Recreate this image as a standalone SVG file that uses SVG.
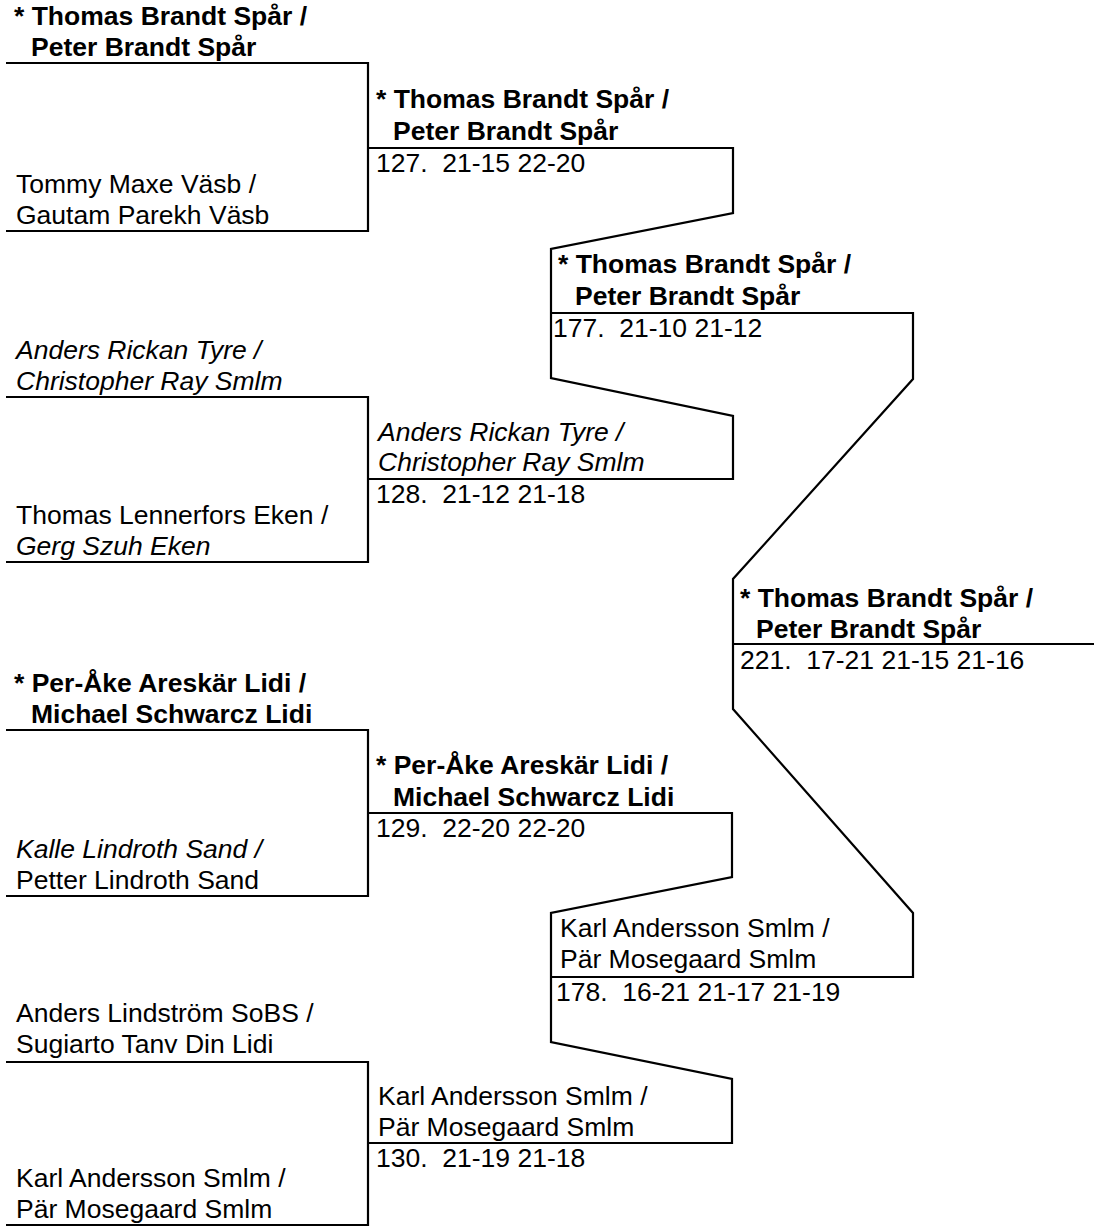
<svg xmlns="http://www.w3.org/2000/svg" width="1104" height="1227" viewBox="0 0 1104 1227">
<style>
text{font-family:"Liberation Sans",Arial,sans-serif;font-size:26.5px;fill:#000;white-space:pre}
.b{font-weight:bold}
.i{font-style:italic}
.ln{fill:none;stroke:#000;stroke-width:2.2;stroke-linejoin:miter}
</style>
<rect width="1104" height="1227" fill="#fff"/>
<g id="connectors">
<path class="ln" d="M6,63 H368 V231 H6"/>
<path class="ln" d="M6,397 H368 V562 H6"/>
<path class="ln" d="M6,730 H368 V896 H6"/>
<path class="ln" d="M6,1062 H368 V1225 H6"/>
<path class="ln" d="M368,148 H733 V213 L551,249 V378 L733,416 V479 H368"/>
<path class="ln" d="M368,813 H732 V877 L551,913 V1042 L732,1079 V1143 H368"/>
<path class="ln" d="M551,313 H913 V379 L733,579 V709 L913,913 V977 H551"/>
<path class="ln" d="M733,644 H1094"/>
</g>
<g id="r1-p1"><text class="b" x="14" y="25">* Thomas Brandt Spår /</text><text class="b" x="31" y="56">Peter Brandt Spår</text></g>
<g id="r1-p2"><text x="16" y="193">Tommy Maxe Väsb /</text><text x="16" y="224">Gautam Parekh Väsb</text></g>
<g id="r1-p3"><text class="i" x="16" y="359">Anders Rickan Tyre /</text><text class="i" x="16" y="390">Christopher Ray Smlm</text></g>
<g id="r1-p4"><text x="16" y="524">Thomas Lennerfors Eken /</text><text class="i" x="16" y="555">Gerg Szuh Eken</text></g>
<g id="r1-p5"><text class="b" x="14" y="692">* Per-Åke Areskär Lidi /</text><text class="b" x="31" y="723">Michael Schwarcz Lidi</text></g>
<g id="r1-p6"><text class="i" x="16" y="858">Kalle Lindroth Sand /</text><text x="16" y="889">Petter Lindroth Sand</text></g>
<g id="r1-p7"><text x="16" y="1022">Anders Lindström SoBS /</text><text x="16" y="1053">Sugiarto Tanv Din Lidi</text></g>
<g id="r1-p8"><text x="16" y="1187">Karl Andersson Smlm /</text><text x="16" y="1218">Pär Mosegaard Smlm</text></g>
<g id="m127"><text class="b" x="376" y="108">* Thomas Brandt Spår /</text><text class="b" x="393" y="140">Peter Brandt Spår</text><text x="376" y="172" xml:space="preserve">127.  21-15 22-20</text></g>
<g id="m128"><text class="i" x="378" y="441">Anders Rickan Tyre /</text><text class="i" x="378" y="471">Christopher Ray Smlm</text><text x="376" y="503" xml:space="preserve">128.  21-12 21-18</text></g>
<g id="m129"><text class="b" x="376" y="774">* Per-Åke Areskär Lidi /</text><text class="b" x="393" y="806">Michael Schwarcz Lidi</text><text x="376" y="837" xml:space="preserve">129.  22-20 22-20</text></g>
<g id="m130"><text x="378" y="1105">Karl Andersson Smlm /</text><text x="378" y="1136">Pär Mosegaard Smlm</text><text x="376" y="1167" xml:space="preserve">130.  21-19 21-18</text></g>
<g id="m177"><text class="b" x="558" y="273">* Thomas Brandt Spår /</text><text class="b" x="575" y="305">Peter Brandt Spår</text><text x="553" y="337" xml:space="preserve">177.  21-10 21-12</text></g>
<g id="m178"><text x="560" y="937">Karl Andersson Smlm /</text><text x="560" y="968">Pär Mosegaard Smlm</text><text x="556" y="1001" xml:space="preserve">178.  16-21 21-17 21-19</text></g>
<g id="m221"><text class="b" x="740" y="607">* Thomas Brandt Spår /</text><text class="b" x="756" y="638">Peter Brandt Spår</text><text x="740" y="669" xml:space="preserve">221.  17-21 21-15 21-16</text></g>
</svg>
